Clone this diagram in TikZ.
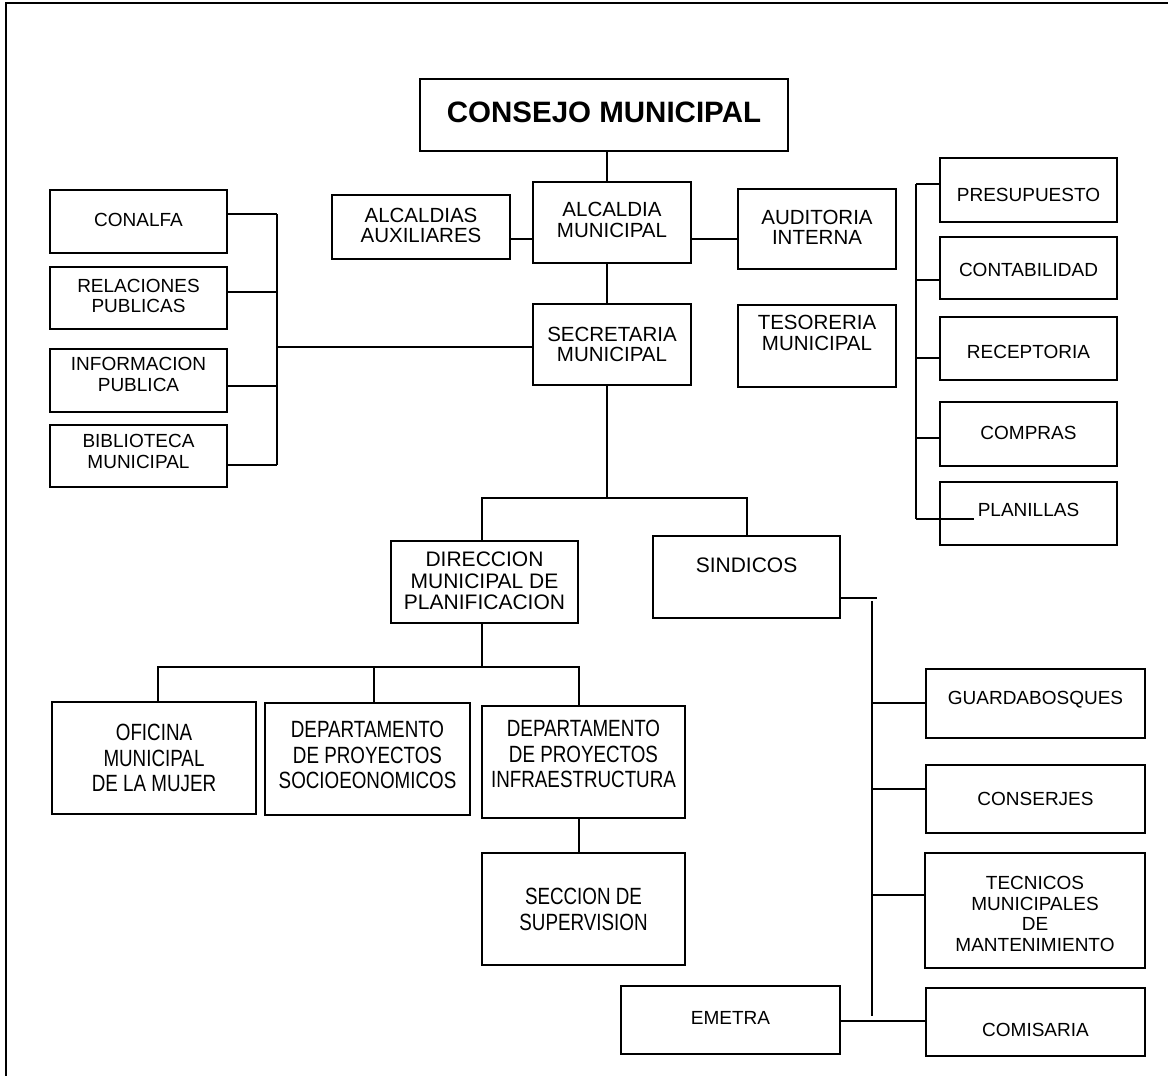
\documentclass[tikz,border=0pt]{standalone}
\usepackage{fontspec}
\setmainfont{Liberation Sans}
\newfontfamily\narrowf[FakeStretch=0.8]{Liberation Sans}
\newcommand\orgbox[8]{%
  \node[box, minimum width={#4-#2}, minimum height={#5-#3}] (#1) at ({(#2+#4)/2},{(#3+#5)/2}) {};
  \node[#7] (#1t) at ({(#2+#4)/2},#6) {#8};}
\begin{document}
\begin{tikzpicture}[x=1pt,y=-1pt,
  box/.style={draw, line width=2pt, inner sep=0pt, outer sep=0pt},
  ln/.style={line width=2pt},
  tA/.style={align=center, inner sep=0pt, font=\fontsize{20.5}{20.5}\selectfont},
  tB/.style={align=center, inner sep=0pt, font=\fontsize{19}{20.5}\selectfont},
  tC/.style={align=center, inner sep=0pt, font=\fontsize{21}{21.3}\selectfont},
  tN/.style={align=center, inner sep=0pt, font=\narrowf\fontsize{23.5}{25.5}\selectfont},
  tT/.style={align=center, inner sep=0pt, font=\bfseries\fontsize{29.5}{32}\selectfont},
]
\useasboundingbox (0,0) rectangle (1168,1076);
% frame
\draw[line width=2pt] (6,1076) -- (6,3) -- (1168,3);

% boxes
\orgbox{consejo}{420}{79}{788}{151}{112}{tT}{CONSEJO MUNICIPAL}
\orgbox{alc}{533}{182}{691}{263}{220}{tA}{ALCALDIA\\MUNICIPAL}
\orgbox{aux}{332}{195}{510}{259}{225.5}{tA}{ALCALDIAS\\AUXILIARES}
\orgbox{aud}{738}{189}{896}{269}{227.5}{tA}{AUDITORIA\\INTERNA}
\orgbox{sec}{533}{304}{691}{385}{344.5}{tA}{SECRETARIA\\MUNICIPAL}
\orgbox{tes}{738}{305}{896}{387}{333}{tA}{TESORERIA\\MUNICIPAL}
\orgbox{pres}{940}{158}{1117}{222}{195}{tB}{PRESUPUESTO}
\orgbox{cont}{940}{237}{1117}{299}{270}{tB}{CONTABILIDAD}
\orgbox{rec}{940}{317}{1117}{380}{352}{tB}{RECEPTORIA}
\orgbox{comp}{940}{402}{1117}{466}{433}{tB}{COMPRAS}
\orgbox{plan}{940}{482}{1117}{545}{510}{tB}{PLANILLAS}
\orgbox{conalfa}{50}{190}{227}{253}{220}{tB}{CONALFA}
\orgbox{rel}{50}{267}{227}{329}{296}{tB}{RELACIONES\\PUBLICAS}
\orgbox{info}{50}{349}{227}{412}{374.5}{tB}{INFORMACION\\PUBLICA}
\orgbox{bib}{50}{425}{227}{487}{451.7}{tB}{BIBLIOTECA\\MUNICIPAL}
\orgbox{dir}{391}{541}{578}{623}{581}{tC}{DIRECCION\\MUNICIPAL DE\\PLANIFICACION}
\orgbox{sind}{653}{536}{840}{618}{565}{tC}{SINDICOS}
\orgbox{ofi}{52}{702}{256}{814}{758}{tN}{OFICINA\\MUNICIPAL\\DE LA MUJER}
\orgbox{socio}{265}{703}{470}{815}{755}{tN}{DEPARTAMENTO\\DE PROYECTOS\\SOCIOEONOMICOS}
\orgbox{infra}{482}{706}{685}{818}{754}{tN}{DEPARTAMENTO\\DE PROYECTOS\\INFRAESTRUCTURA}
\orgbox{secc}{482}{853}{685}{965}{909.5}{tN}{SECCION DE\\SUPERVISION}
\orgbox{guard}{926}{669}{1145}{738}{700}{tB}{GUARDABOSQUES}
\orgbox{cons}{926}{765}{1145}{833}{799}{tB}{CONSERJES}
\orgbox{tec}{925}{853}{1145}{968}{914}{tB}{TECNICOS\\MUNICIPALES\\DE\\MANTENIMIENTO}
\orgbox{com}{926}{988}{1145}{1056}{1030}{tB}{COMISARIA}
\orgbox{emetra}{621}{986}{840}{1054}{1018}{tB}{EMETRA}

% connectors: top trunk
\coordinate (tx) at (607,0);
\draw[ln] (consejo.south -| tx) -- (alc.north -| tx);
\draw[ln] (alc.south -| tx) -- (sec.north -| tx);
\draw[ln] (aux.east |- 0,239) -- (alc.west |- 0,239);
\draw[ln] (alc.east |- 0,239) -- (aud.west |- 0,239);

% left bus
\coordinate (lb1) at (277,214);
\coordinate (lb2) at (277,465);
\draw[ln] (lb1) -- (lb2);
\draw[ln] (conalfa.east |- lb1) -- (lb1);
\draw[ln] (rel.east |- 0,292) -- (lb1 |- 0,292);
\draw[ln] (info.east |- 0,386) -- (lb1 |- 0,386);
\draw[ln] (bib.east |- lb2) -- (lb2);
\draw[ln] (sec.west |- 0,347) -- (lb1 |- 0,347);

% right bus
\coordinate (rb1) at (916,184);
\coordinate (rb2) at (916,519);
\draw[ln] (rb1) -- (rb2);
\draw[ln] (rb1) -- (pres.west |- rb1);
\draw[ln] (rb1 |- 0,280) -- (cont.west |- 0,280);
\draw[ln] (rb1 |- 0,358) -- (rec.west |- 0,358);
\draw[ln] (rb1 |- 0,438) -- (comp.west |- 0,438);
\draw[ln] (rb2) -- ([xshift=34pt]plan.west |- rb2);

% middle split
\coordinate (j) at (607,498);
\draw[ln] (sec.south -| tx) -- (j);
\draw[ln] (dir.north -| 482,0) |- (j) -| (sind.north -| 747,0);

% lower split
\coordinate (k) at (482,667);
\draw[ln] (dir.south -| k) -- (k);
\draw[ln] (ofi.north -| 158,0) |- (k) -| (infra.north -| 579,0);
\draw[ln] (socio.north -| 374,0) -- (k -| 374,0);
\draw[ln] (infra.south -| 579,0) -- (secc.north -| 579,0);

% sindicos bus
\coordinate (sy) at (877,598);
\draw[ln] (sind.east |- sy) -- (sy);
\coordinate (sb1) at (872,601);
\coordinate (sb2) at (872,1016);
\draw[ln] (sb1) -- (sb2);
\draw[ln] (sb1 |- 0,703) -- (guard.west |- 0,703);
\draw[ln] (sb1 |- 0,789) -- (cons.west |- 0,789);
\draw[ln] (sb1 |- 0,895) -- (tec.west |- 0,895);
\draw[ln] (emetra.east |- 0,1021) -- (com.west |- 0,1021);
\end{tikzpicture}
\end{document}
